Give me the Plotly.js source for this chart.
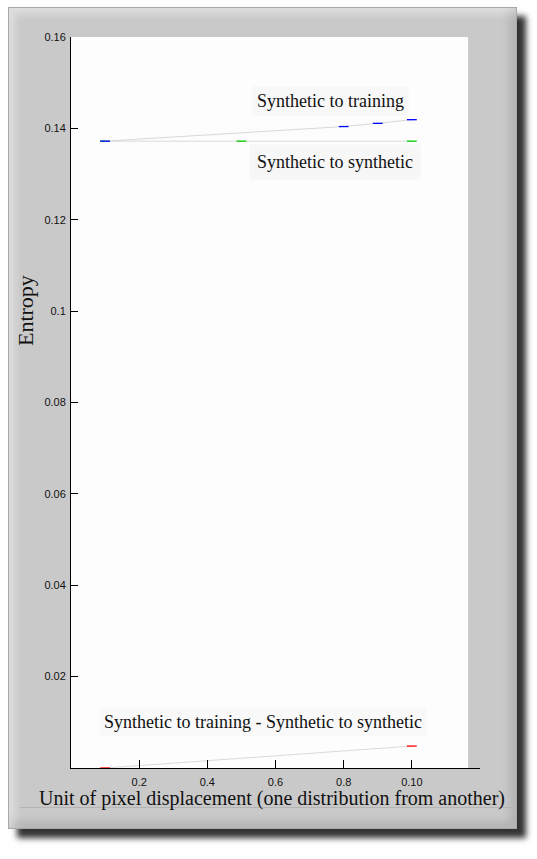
<!DOCTYPE html>
<html>
<head>
<meta charset="utf-8">
<script src="https://cdn.plot.ly/plotly-3.0.1.min.js"></script>
<style>
  html, body { margin: 0; padding: 0; background: #ffffff; }
  #frame {
    position: absolute; left: 8px; top: 7px; width: 507px; height: 820px;
    background: #c9c9c9; border: 1px solid #a8a8a8;
    box-shadow: 9px 9px 6px rgba(0,0,0,0.8),
                inset 5px 5px 10px rgba(255,255,255,0.45),
                inset -6px -6px 10px rgba(0,0,0,0.12);
  }
  #rule { position: absolute; left: 20px; top: 807px; width: 492px; height: 1px; background: #b4b4b4; }
  #plot { position: absolute; left: 0; top: 0; width: 537px; height: 859px; }
</style>
</head>
<body>
<div id="frame"></div>
<div id="rule"></div>
<div id="plot"></div>
<script>
// displacement values for each series
var x_train = [0.1, 0.8, 0.9, 1.0];
var y_train = [0.1372, 0.1404, 0.1411, 0.1419];
var x_synth = [0.1, 0.5, 1.0];
var y_synth = [0.1372, 0.1372, 0.1372];
var x_diff = [0.1, 1.0];
var y_diff = [0.0, 0.0048];

var y_ticks = [0.02, 0.04, 0.06, 0.08, 0.1, 0.12, 0.14, 0.16];
var y_labels = ['0.02', '0.04', '0.06', '0.08', '0.1', '0.12', '0.14', '0.16'];
var x_ticks = [0.2, 0.4, 0.6, 0.8, 1.0];
var x_labels = ['0.2', '0.4', '0.6', '0.8', '0.10'];

var serif = 'Liberation Serif, Times New Roman, serif';

function series(x, y, col) {
  return {
    x: x, y: y, type: 'scatter', mode: 'lines+markers',
    line: {color: '#d9d9d9', width: 1},
    marker: {symbol: 'line-ew', size: 7, line: {color: col, width: 1.3}},
    hoverinfo: 'skip', showlegend: false
  };
}

var traces = [
  series(x_synth, y_synth, '#00d000'),
  series(x_train, y_train, '#0000ff'),
  series(x_diff, y_diff, '#ff0000')
];

var layout = {
  width: 537, height: 859,
  margin: {l: 71, r: 57, t: 37, b: 91},
  paper_bgcolor: 'rgba(0,0,0,0)',
  plot_bgcolor: '#fdfdfd',
  font: {family: 'Liberation Sans, Arial, sans-serif', size: 11, color: '#111'},
  xaxis: {
    range: [0, 1.2], tickvals: x_ticks, ticktext: x_labels,
    ticks: 'inside', ticklen: 8, tickcolor: '#000', ticklabelstandoff: 4,
    showline: true, linecolor: '#000', linewidth: 1,
    showgrid: false, zeroline: false, fixedrange: true
  },
  yaxis: {
    range: [0, 0.16], tickvals: y_ticks, ticktext: y_labels,
    ticks: 'inside', ticklen: 7, tickcolor: '#000', ticklabelstandoff: 2,
    showline: true, linecolor: '#000', linewidth: 1,
    showgrid: false, zeroline: false, fixedrange: true
  },
  shapes: [
    // grey strip at the right end of the axis, outside the white area
    {type: 'rect', xref: 'x', yref: 'y', x0: 1.165, x1: 1.2, y0: 0, y1: 0.16,
     fillcolor: '#c9c9c9', line: {width: 0}, layer: 'below'}
  ],
  annotations: [
    {x: 0.762, y: 0.1459, xref: 'x', yref: 'y', text: 'Synthetic to training', showarrow: false,
     font: {family: serif, size: 18, color: '#111'}, bgcolor: '#f8f8f8', borderpad: 4},
    {x: 0.774, y: 0.1327, xref: 'x', yref: 'y', text: 'Synthetic to synthetic', showarrow: false,
     font: {family: serif, size: 18, color: '#111'}, bgcolor: '#f7f7f7', borderpad: 7},
    {x: 0.562, y: 0.0101, xref: 'x', yref: 'y', text: 'Synthetic to training - Synthetic to synthetic', showarrow: false,
     font: {family: serif, size: 18, color: '#111'}, bgcolor: '#f9f9f9', borderpad: 4},
    {x: -0.1125, y: 0.6265, xref: 'paper', yref: 'paper', xanchor: 'center', yanchor: 'middle',
     text: 'Entropy', textangle: -90, showarrow: false,
     font: {family: serif, size: 22, color: '#111'}},
    {x: 0.491, y: -0.042, xref: 'paper', yref: 'paper', xanchor: 'center', yanchor: 'middle',
     text: 'Unit of pixel displacement (one distribution from another)', showarrow: false,
     font: {family: serif, size: 20, color: '#111'}}
  ]
};

Plotly.newPlot('plot', traces, layout, {displayModeBar: false, staticPlot: true});
</script>
</body>
</html>
